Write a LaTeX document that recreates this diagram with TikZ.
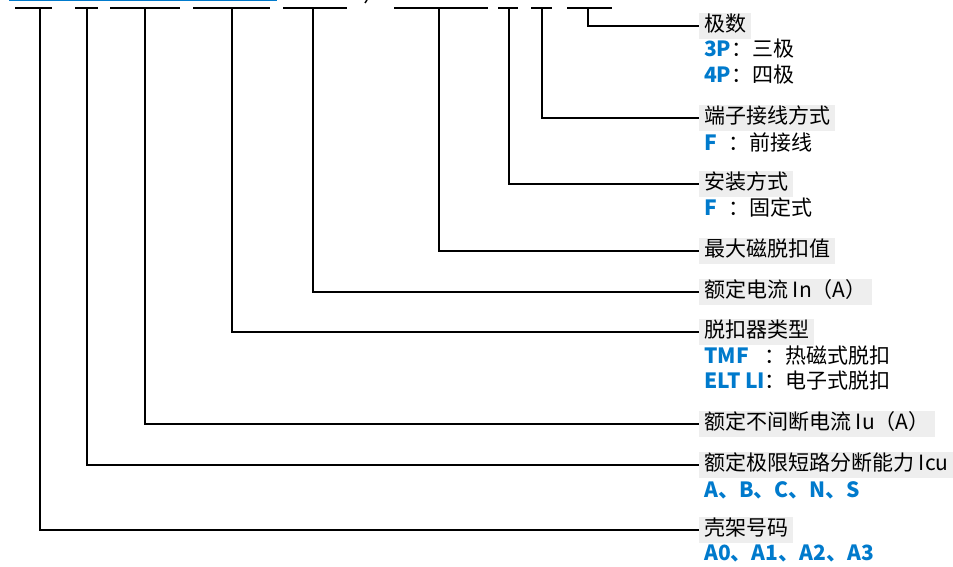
\documentclass[tikz,border=0pt]{standalone}
\usepackage{fontspec}
\setmainfont{Noto Sans CJK SC}
\usepackage{tikz}
\definecolor{codeblue}{RGB}{0,122,204}
\definecolor{tagbg}{RGB}{238,238,238}
\tikzset{
  tag/.style={fill=tagbg, anchor=west, inner xsep=5pt, inner ysep=3.5pt, text height=15pt, text depth=4pt, font=\fontsize{21}{25}\selectfont},
  note/.style={anchor=west, inner sep=0pt, text height=15pt, text depth=4pt, font=\fontsize{21}{25}\selectfont},
  lead/.style={line width=1.5pt}
}
\newcommand{\code}[1]{{\bfseries\color{codeblue}#1}}

\begin{document}
\begin{tikzpicture}[x=1pt,y=-1pt]
\useasboundingbox (0,0) rectangle (953,567);
\draw[codeblue, line width=3pt] (9,0) -- (277,0);
\draw[line width=1.5pt] (365,3) -- (367,0);

\node (poles) [tag] at (699,26) {极数};
\node (poles-a) [note] at (704,51) {\code{3P}：三极};
\node (poles-b) [note] at (704,77) {\code{4P}：四极};
\node (term) [tag] at (699,118) {端子接线方式};
\node (term-a) [note] at (704,145) {\makebox[24pt][l]{\code{F}}：前接线};
\node (mount) [tag] at (699,184) {安装方式};
\node (mount-a) [note] at (704,210) {\makebox[24pt][l]{\code{F}}：固定式};
\node (mag) [tag] at (699,251) {最大磁脱扣值};
\node (rated) [tag] at (699,292) {额定电流 In（A）};
\node (trip) [tag] at (699,332) {脱扣器类型};
\node (trip-a) [note] at (704,358) {\makebox[60pt][l]{\code{TMF}}：热磁式脱扣};
\node (trip-b) [note] at (704,383) {\makebox[60pt][l]{\code{ELT LI}}：电子式脱扣};
\node (iu) [tag] at (699,424) {额定不间断电流 Iu（A）};
\node (icu) [tag] at (699,465) {额定极限短路分断能力 Icu};
\node (icu-a) [note] at (704,492) {\code{A、B、C、N、S}};
\node (frame) [tag] at (699,530) {壳架号码};
\node (frame-a) [note] at (704,555) {\code{A0、A1、A2、A3}};

\foreach \l/\r/\m/\n in {15/52/40/frame, 75/98/87/icu, 110/180/145/iu, 193/270/232/trip,
  283/347/313/rated, 394/488/439/mag, 498/518/509/mount, 531/552/542/term, 567/612/588/poles}
{
  \coordinate (\n-bar) at (\m,8);
  \draw[lead] (\l,8) -- (\r,8);
  \draw[lead] (\n-bar) |- (\n.west);
}
\end{tikzpicture}
\end{document}
